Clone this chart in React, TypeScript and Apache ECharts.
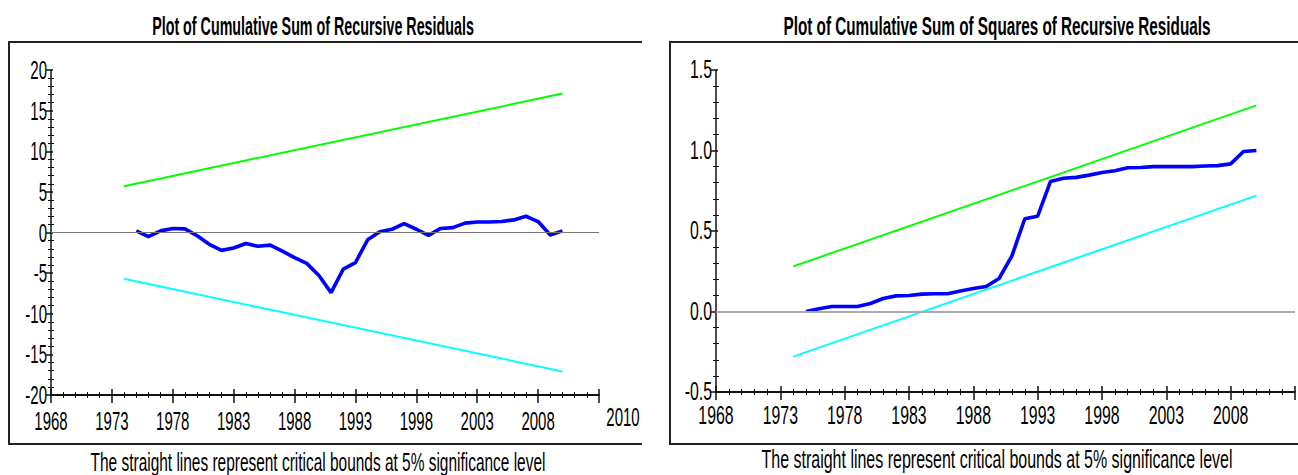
import React, { useEffect, useRef } from "react";
import * as echarts from "echarts";

const FONT = "'Liberation Sans', Arial, sans-serif";

const titleLeft = "Plot of Cumulative Sum of Recursive Residuals";
const titleRight = "Plot of Cumulative Sum of Squares of Recursive Residuals";
const footerText = "The straight lines represent critical bounds at 5% significance level";

const years = [
  1975, 1976, 1977, 1978, 1979, 1980, 1981, 1982, 1983, 1984, 1985, 1986,
  1987, 1988, 1989, 1990, 1991, 1992, 1993, 1994, 1995, 1996, 1997, 1998,
  1999, 2000, 2001, 2002, 2003, 2004, 2005, 2006, 2007, 2008, 2009, 2010,
];

const cusum = [
  0.2, -0.5, 0.2, 0.5, 0.45, -0.4, -1.45, -2.2, -1.9, -1.35, -1.7, -1.55,
  -2.3, -3.1, -3.8, -5.3, -7.4, -4.5, -3.7, -0.9, 0.1, 0.4, 1.1, 0.4,
  -0.35, 0.5, 0.6, 1.15, 1.3, 1.3, 1.35, 1.55, 2.0, 1.35, -0.3, 0.2,
];

const cusumsq = [
  0, 0.017, 0.031, 0.031, 0.031, 0.05, 0.081, 0.097, 0.099, 0.108, 0.11, 0.11,
  0.127, 0.143, 0.155, 0.205, 0.346, 0.576, 0.592, 0.808, 0.828, 0.833, 0.847, 0.863,
  0.874, 0.893, 0.894, 0.9, 0.9, 0.9, 0.9, 0.904, 0.906, 0.917, 0.994, 1.0,
];

const boundYears = [1974, 2010];
const cusumUpper = [5.7, 17.1];
const cusumLower = [-5.7, -17.1];
const sqUpper = [0.28, 1.28];
const sqLower = [-0.28, 0.72];

const xMin = 1968;
const xMax = 2013;
const xTickLabels = [1968, 1973, 1978, 1983, 1988, 1993, 1998, 2003, 2008];
const xAxisEndName = "2010";
const leftYTicks = [-20, -15, -10, -5, 0, 5, 10, 15, 20];
const rightYTicks = [-0.5, 0.0, 0.5, 1.0, 1.5];

const pairs = (xs: number[], ys: number[]) => xs.map((x, i) => [x, ys[i]]);

const AXIS_COLOR = "#111";

function mainX(gridIndex: number) {
  return {
    gridIndex,
    type: "value",
    min: xMin,
    max: xMax,
    interval: 5,
    position: "bottom",
    axisLine: { onZero: false, lineStyle: { color: AXIS_COLOR, width: 2 } },
    axisTick: { length: 8, lineStyle: { color: AXIS_COLOR, width: 1.5 } },
    minorTick: { show: true, splitNumber: 5, length: 3, lineStyle: { color: AXIS_COLOR, width: 1 } },
    axisLabel: { show: false },
    splitLine: { show: false },
  };
}

function innerX(gridIndex: number) {
  return {
    gridIndex,
    type: "value",
    min: xMin,
    max: xMax,
    interval: 5,
    position: "bottom",
    axisLine: { show: false, onZero: false },
    axisTick: { inside: true, length: 6, lineStyle: { color: AXIS_COLOR, width: 1.5 } },
    minorTick: { show: true, splitNumber: 5, length: 3, lineStyle: { color: AXIS_COLOR, width: 1 } },
    axisLabel: { show: false },
    splitLine: { show: false },
  };
}

function mainY(gridIndex: number, min: number, max: number, interval: number) {
  return {
    gridIndex,
    type: "value",
    min,
    max,
    interval,
    position: "left",
    axisLine: { onZero: false, lineStyle: { color: AXIS_COLOR, width: 1.5 } },
    axisTick: { length: 5, lineStyle: { color: AXIS_COLOR, width: 1.5 } },
    minorTick: { show: true, splitNumber: 5, length: 3, lineStyle: { color: AXIS_COLOR, width: 1 } },
    axisLabel: { show: false },
    splitLine: { show: false },
  };
}

function innerY(gridIndex: number, min: number, max: number, interval: number) {
  return {
    gridIndex,
    type: "value",
    min,
    max,
    interval,
    position: "left",
    axisLine: { show: false, onZero: false },
    axisTick: { inside: true, length: 2, lineStyle: { color: AXIS_COLOR, width: 1.5 } },
    minorTick: { show: true, splitNumber: 5, length: 3, lineStyle: { color: AXIS_COLOR, width: 1 } },
    axisLabel: { show: false },
    splitLine: { show: false },
  };
}

function txt(
  text: string,
  x: number,
  y: number,
  fontSize: number,
  scaleX: number,
  align: string,
  bold = false
) {
  return {
    type: "text",
    x,
    y,
    scaleX,
    silent: true,
    style: {
      text,
      align,
      verticalAlign: "middle",
      fontSize,
      fontFamily: FONT,
      fontWeight: bold ? "bold" : "normal",
      fill: "#000",
    },
  };
}

export default function App() {
  const ref = useRef<HTMLDivElement>(null);

  useEffect(() => {
    document.body.style.margin = "0";
    if (!ref.current) return;
    const chart = echarts.init(ref.current, null, { renderer: "svg" });

    const zeroLine = (color: string, width: number) => ({
      silent: true,
      symbol: "none",
      label: { show: false },
      lineStyle: { color, width, type: "solid" },
      data: [{ yAxis: 0 }],
    });

    chart.setOption({
      animation: false,
      backgroundColor: "#fff",
      grid: [
        { left: 51, top: 70, width: 548, height: 325 },
        { left: 716, top: 70, width: 579, height: 322 },
      ],
      xAxis: [mainX(0), innerX(0), mainX(1), innerX(1)],
      yAxis: [
        mainY(0, -20, 20, 5),
        innerY(0, -20, 20, 5),
        mainY(1, -0.5, 1.5, 0.5),
        innerY(1, -0.5, 1.5, 0.5),
      ],
      series: [
        {
          type: "line",
          xAxisIndex: 0,
          yAxisIndex: 0,
          data: pairs(boundYears, cusumUpper),
          symbol: "none",
          lineStyle: { color: "#00ff00", width: 2 },
          markLine: zeroLine("#777", 1),
        },
        {
          type: "line",
          xAxisIndex: 0,
          yAxisIndex: 0,
          data: pairs(boundYears, cusumLower),
          symbol: "none",
          lineStyle: { color: "#00ffff", width: 2 },
        },
        {
          type: "line",
          xAxisIndex: 0,
          yAxisIndex: 0,
          data: pairs(years, cusum),
          symbol: "none",
          lineStyle: { color: "#0000ff", width: 3.6 },
        },
        {
          type: "line",
          xAxisIndex: 2,
          yAxisIndex: 2,
          data: pairs(boundYears, sqUpper),
          symbol: "none",
          lineStyle: { color: "#00ff00", width: 2 },
          markLine: zeroLine("#aaa", 2),
        },
        {
          type: "line",
          xAxisIndex: 2,
          yAxisIndex: 2,
          data: pairs(boundYears, sqLower),
          symbol: "none",
          lineStyle: { color: "#00ffff", width: 2 },
        },
        {
          type: "line",
          xAxisIndex: 2,
          yAxisIndex: 2,
          data: pairs(years, cusumsq),
          symbol: "none",
          lineStyle: { color: "#0000ff", width: 3.6 },
        },
      ],
    });

    const graphics: any[] = [
      {
        type: "polyline",
        shape: { points: [[642, 42], [9, 42], [9, 444], [642, 444]] },
        style: { stroke: "#222", lineWidth: 2, fill: "none" },
        silent: true,
      },
      {
        type: "polyline",
        shape: { points: [[1298, 42], [670, 42], [670, 444], [1298, 444]] },
        style: { stroke: "#222", lineWidth: 2, fill: "none" },
        silent: true,
      },
      txt(titleLeft, 313, 26, 25, 0.572, "center", true),
      txt(titleRight, 997, 26, 26, 0.588, "center", true),
      txt(footerText, 318, 462, 25, 0.618, "center"),
      txt(footerText, 997, 459, 26, 0.615, "center"),
    ];

    const panels = [
      { grid: 0, yMin: -20, yTicks: leftYTicks, digits: 0, fs: 25, sx: 0.6, xOff: 26 },
      { grid: 1, yMin: -0.5, yTicks: rightYTicks, digits: 1, fs: 26, sx: 0.61, xOff: 24 },
    ];

    panels.forEach((p) => {
      xTickLabels.forEach((v) => {
        const pt = chart.convertToPixel({ gridIndex: p.grid }, [v, p.yMin]) as number[];
        graphics.push(txt(String(v), pt[0], pt[1] + p.xOff, p.fs, p.sx, "center"));
      });
      p.yTicks.forEach((v) => {
        const pt = chart.convertToPixel({ gridIndex: p.grid }, [xMin, v]) as number[];
        graphics.push(txt(v.toFixed(p.digits), pt[0] - 4, pt[1], p.fs, p.sx, "right"));
      });
    });

    const endPt = chart.convertToPixel({ gridIndex: 0 }, [xMax, -20]) as number[];
    graphics.push(txt(xAxisEndName, endPt[0] + 24, endPt[1] + 22, 25, 0.6, "center"));

    chart.setOption({ graphic: graphics });

    return () => chart.dispose();
  }, []);

  return <div ref={ref} style={{ width: 1298, height: 475 }} />;
}
